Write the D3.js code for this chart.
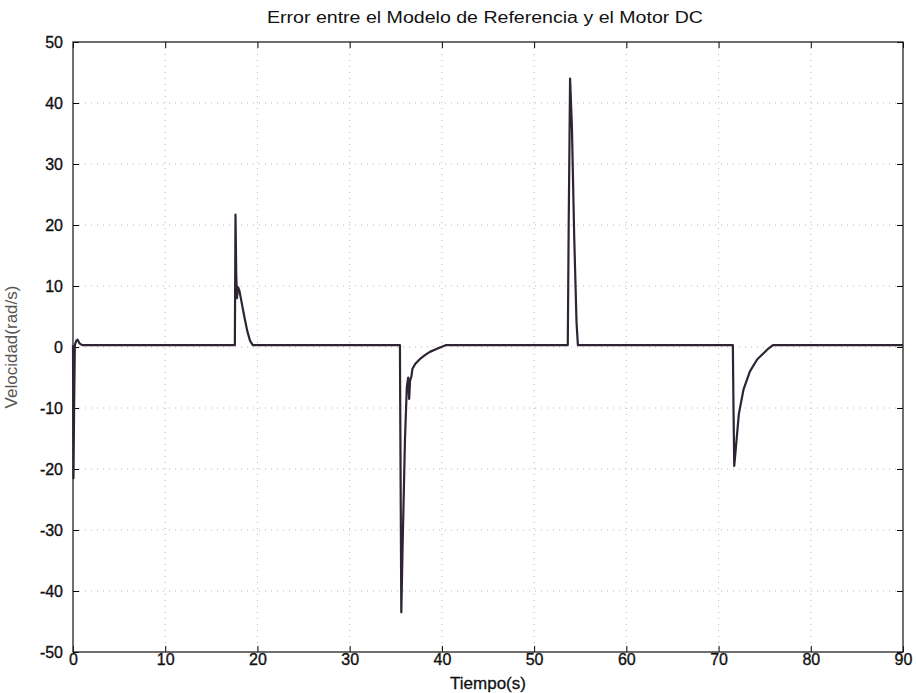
<!DOCTYPE html>
<html>
<head>
<meta charset="utf-8">
<script src="https://cdn.jsdelivr.net/npm/d3@7"></script>
<style>
  html, body { margin: 0; padding: 0; background: #fff; }
  svg { display: block; }
  text { font-family: "Liberation Sans", Arial, sans-serif; }
</style>
</head>
<body>
<div id="chart"></div>
<script>
// Tracking error between the reference model and the DC motor speed
const timeS = [
  0, 0.05, 0.12, 0.2, 0.35, 0.5, 0.7, 1.0, 1.5, 2.5,
  17.55, 17.62, 17.7, 17.78, 17.9, 18.05, 18.3, 18.6, 18.9, 19.2, 19.5, 20.5,
  35.45, 35.5, 35.6, 35.75, 36.0, 36.2, 36.35, 36.45, 36.55, 36.7, 36.8,
  37.1, 37.6, 38.2, 38.7, 39.6, 40.4, 45,
  53.65, 53.75, 53.9, 54.1, 54.35, 54.6, 54.75, 60,
  71.55, 71.62, 71.7, 71.85, 72.2, 72.7, 73.4, 74.2, 75.3, 75.9, 90
];
const errorRad = [
  0.3, -21.5, -10, 0.3, 1.0, 1.2, 0.6, 0.3, 0.3, 0.3,
  0.3, 21.7, 12, 8.0, 9.8, 9.2, 7.2, 4.8, 2.6, 1.0, 0.3, 0.3,
  0.3, -15, -43.5, -32, -15, -6.5, -5, -8.5, -5.5, -4.8, -3.6,
  -2.8, -2.0, -1.3, -0.8, -0.2, 0.3, 0.3,
  0.3, 20, 44, 36, 18, 4, 0.3, 0.3,
  0.3, -10, -19.5, -17, -11, -7, -4, -2, -0.4, 0.3, 0.3
];
const xTicks = [0, 10, 20, 30, 40, 50, 60, 70, 80, 90];
const yTicks = [-50, -40, -30, -20, -10, 0, 10, 20, 30, 40, 50];

const W = 916, H = 693;
const m = { left: 73, right: 13, top: 42, bottom: 41 };
const iw = W - m.left - m.right, ih = H - m.top - m.bottom;

const svg = d3.select("#chart").append("svg").attr("width", W).attr("height", H);
const g = svg.append("g").attr("transform", `translate(${m.left},${m.top})`);

const x = d3.scaleLinear().domain([0, 90]).range([0, iw]);
const y = d3.scaleLinear().domain([-50, 50]).range([ih, 0]);

// dotted grid
g.append("g").selectAll("line").data(xTicks.slice(1, -1)).join("line")
  .attr("x1", d => x(d)).attr("x2", d => x(d)).attr("y1", 0).attr("y2", ih)
  .attr("stroke", "#b8b8b8").attr("stroke-width", 1).attr("stroke-dasharray", "1,5");
g.append("g").selectAll("line").data(yTicks.slice(1, -1)).join("line")
  .attr("y1", d => y(d)).attr("y2", d => y(d)).attr("x1", 0).attr("x2", iw)
  .attr("stroke", "#b8b8b8").attr("stroke-width", 1).attr("stroke-dasharray", "1,5");

// axes with inward ticks on all four sides
const plain = d => String(d);
const tickFont = a => a.selectAll("text")
  .attr("font-size", 16).attr("fill", "#111")
  .attr("stroke", "#111").attr("stroke-width", 0.35)
  .attr("font-family", "'Liberation Sans', Arial, sans-serif");
g.append("g").attr("transform", `translate(0,${ih})`)
  .call(d3.axisBottom(x).tickValues(xTicks).tickFormat(plain).tickSizeInner(-6).tickSizeOuter(0).tickPadding(2))
  .call(a => a.select(".domain").remove()).call(tickFont);
g.append("g")
  .call(d3.axisLeft(y).tickValues(yTicks).tickFormat(plain).tickSizeInner(-6).tickSizeOuter(0).tickPadding(10))
  .call(a => a.select(".domain").remove()).call(tickFont);
g.append("g")
  .call(d3.axisTop(x).tickValues(xTicks).tickSizeInner(-6).tickSizeOuter(0).tickFormat(""))
  .call(a => a.select(".domain").remove());
g.append("g").attr("transform", `translate(${iw},0)`)
  .call(d3.axisRight(y).tickValues(yTicks).tickSizeInner(-6).tickSizeOuter(0).tickFormat(""))
  .call(a => a.select(".domain").remove());
g.append("rect").attr("width", iw).attr("height", ih)
  .attr("fill", "none").attr("stroke", "#222").attr("stroke-width", 1.3);

// error trace
const pts = timeS.map((t, i) => [t, errorRad[i]]);
g.append("path").datum(pts)
  .attr("fill", "none").attr("stroke", "#2e2433").attr("stroke-width", 2.2)
  .attr("stroke-linejoin", "round")
  .attr("d", d3.line().x(d => x(d[0])).y(d => y(d[1])));

// labels
svg.append("text").attr("x", 267).attr("y", 23)
  .attr("font-size", 16).attr("fill", "#111")
  .attr("textLength", 436).attr("lengthAdjust", "spacingAndGlyphs")
  .text("Error entre el Modelo de Referencia y el Motor DC");
svg.append("text").attr("x", m.left + iw / 2).attr("y", 689).attr("text-anchor", "middle")
  .attr("font-size", 17).attr("fill", "#111").attr("stroke", "#111").attr("stroke-width", 0.3)
  .text("Tiempo(s)");
svg.append("text").attr("transform", `translate(17,${m.top + y(0)}) rotate(-90)`)
  .attr("text-anchor", "middle").attr("font-size", 17).attr("fill", "#555")
  .text("Velocidad(rad/s)");
</script>
</body>
</html>
